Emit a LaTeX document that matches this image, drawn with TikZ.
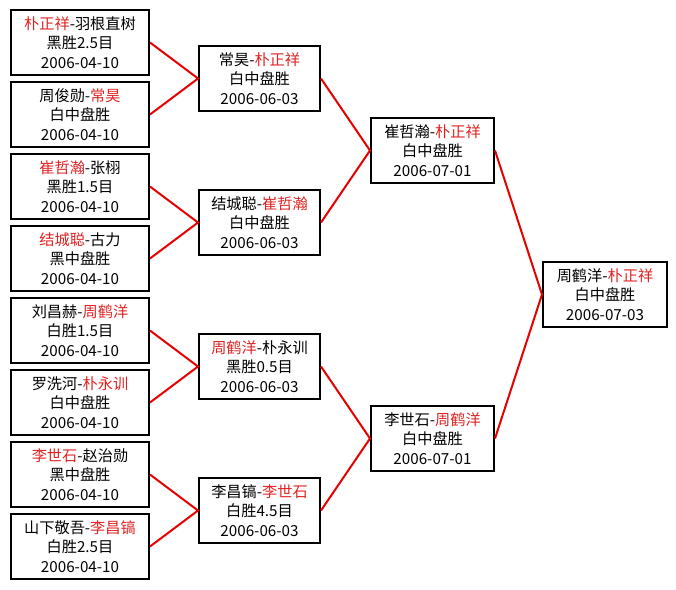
\documentclass[tikz,border=0pt]{standalone}
\usepackage{fontspec}
\setmainfont{Noto Sans CJK SC}
\definecolor{winred}{RGB}{225,35,35}
\definecolor{linkred}{RGB}{230,0,0}
\newcommand{\win}[1]{\textcolor{winred}{#1}}
\tikzset{
	game/.style={draw=black, line width=2pt, fill=white, align=center, inner sep=0pt,
		minimum height=65pt, font=\fontsize{15.2}{19.5}\selectfont},
	leaf/.style={game, minimum width=138pt},
	semi/.style={game, minimum width=121pt},
	quart/.style={game, minimum width=123pt},
	final/.style={game, minimum width=124pt},
	link/.style={draw=linkred, line width=2pt},
}
\begin{document}
\begin{tikzpicture}[x=1pt, y=-1pt]
	\useasboundingbox[fill=white] (0,0) rectangle (676,589) ;
		\node (a1)[leaf] at (80, 42.5) {\win{朴正祥}-羽根直树\\黑胜2.5目\\2006-04-10} ;
		\node (a2)[leaf] at (80, 114.5) {周俊勋-\win{常昊}\\白中盘胜\\2006-04-10} ;
		\node (a3)[leaf] at (80, 186.5) {\win{崔哲瀚}-张栩\\黑胜1.5目\\2006-04-10} ;
		\node (a4)[leaf] at (80, 258.5) {\win{结城聪}-古力\\黑中盘胜\\2006-04-10} ;
		\node (a5)[leaf] at (80, 330.5) {刘昌赫-\win{周鹤洋}\\白胜1.5目\\2006-04-10} ;
		\node (a6)[leaf] at (80, 402.5) {罗洗河-\win{朴永训}\\白中盘胜\\2006-04-10} ;
		\node (a7)[leaf] at (80, 474.5) {\win{李世石}-赵治勋\\黑中盘胜\\2006-04-10} ;
		\node (a8)[leaf] at (80, 546.5) {山下敬吾-\win{李昌镐}\\白胜2.5目\\2006-04-10} ;
        \node (b1)[semi] at (259.5, 78.5) {常昊-\win{朴正祥}\\白中盘胜\\2006-06-03} ;
        \node (b2)[semi] at (259.5, 222.5) {结城聪-\win{崔哲瀚}\\白中盘胜\\2006-06-03} ;
        \node (b3)[semi] at (259.5, 366.5) {\win{周鹤洋}-朴永训\\黑胜0.5目\\2006-06-03} ;
        \node (b4)[semi] at (259.5, 510.5) {李昌镐-\win{李世石}\\白胜4.5目\\2006-06-03} ;
		\node (c1)[quart] at (432.5, 150.5) {崔哲瀚-\win{朴正祥}\\白中盘胜\\2006-07-01} ;
		\node (c2)[quart] at (432.5, 438.5) {李世石-\win{周鹤洋}\\白中盘胜\\2006-07-01} ;
        \node (d)[final] at (605, 294.5) {周鹤洋-\win{朴正祥}\\白中盘胜\\2006-07-03} ;
	\draw[link] (a1.east) -- (b1.west) -- (a2.east) ;
	\draw[link] (a3.east) -- (b2.west) -- (a4.east) ;
	\draw[link] (a5.east) -- (b3.west) -- (a6.east) ;
	\draw[link] (a7.east) -- (b4.west) -- (a8.east) ;
	\draw[link] (b1.east) -- (c1.west) -- (b2.east) ;
	\draw[link] (b3.east) -- (c2.west) -- (b4.east) ;
	\draw[link] (c1.east) -- (d.west) -- (c2.east) ;
\end{tikzpicture}
\end{document}
